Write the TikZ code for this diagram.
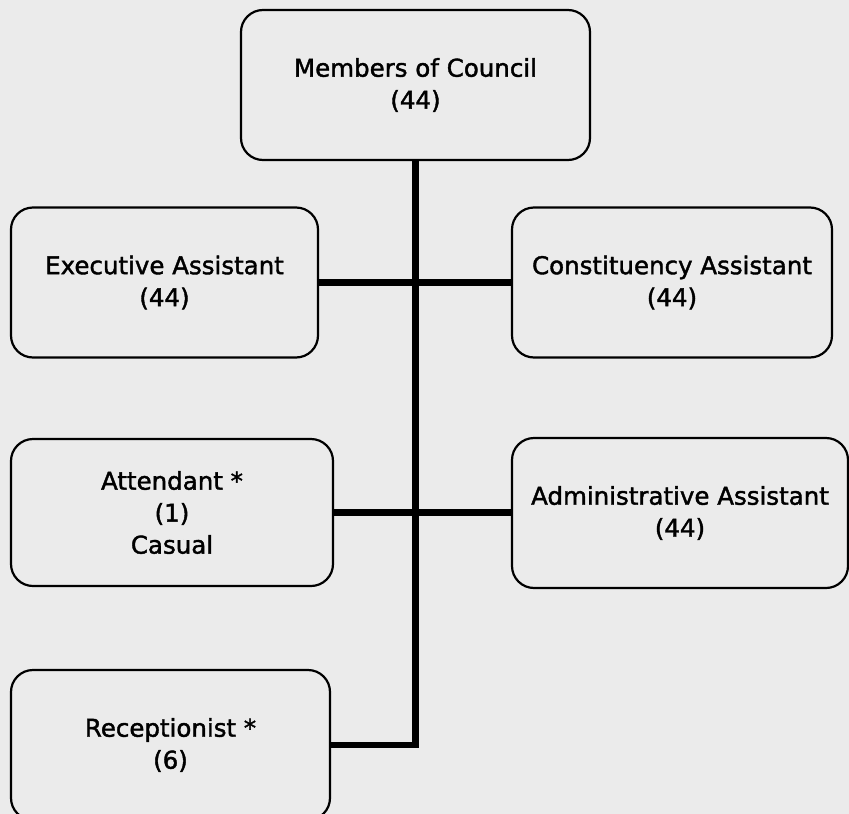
\documentclass[tikz,border=0pt]{standalone}
\usepackage{fontspec}
\setmainfont[FakeBold=1.6]{DejaVu Sans}
\usepackage{xcolor}
\usepackage{tikz}
\usetikzlibrary{positioning,calc}

\definecolor{panel}{RGB}{235,235,235}

\begin{document}
\begin{tikzpicture}[
    x=1pt, y=-1pt,
    post/.style={rectangle, draw, line width=2.2pt, rounded corners=22pt, fill=panel, align=center, inner sep=0pt, minimum height=150pt, font=\fontsize{24.5}{32}\selectfont},
    link/.style={line width=6.5pt}
]
\clip (0,0) rectangle (849,814);
\fill[panel] (0,0) rectangle (849,814);

\node[post, minimum width=349pt] (council) at (415.5,85) {Members of Council\\(44)};

\node[post, minimum width=307pt] (exec) at (164.5,282.5) {Executive Assistant\\(44)};
\node[post, minimum width=320pt] (const) at (672,282.5) {Constituency Assistant\\(44)};

\node[post, minimum width=322pt, minimum height=147pt] (attend) at (172,512.5) {Attendant *\\(1)\\Casual};
\node[post, minimum width=336pt] (admin) at (680,513) {Administrative Assistant\\(44)};

\node[post, minimum width=319pt] (recept) at (170.5,745) {Receptionist *\\(6)};

\draw[link] (exec.east) -- (const.west);
\draw[link] (attend.east) -- (attend.east -| admin.west);
\draw[link] (council.south) -- (council.south |- recept.east) -- (recept.east);

\end{tikzpicture}
\end{document}
